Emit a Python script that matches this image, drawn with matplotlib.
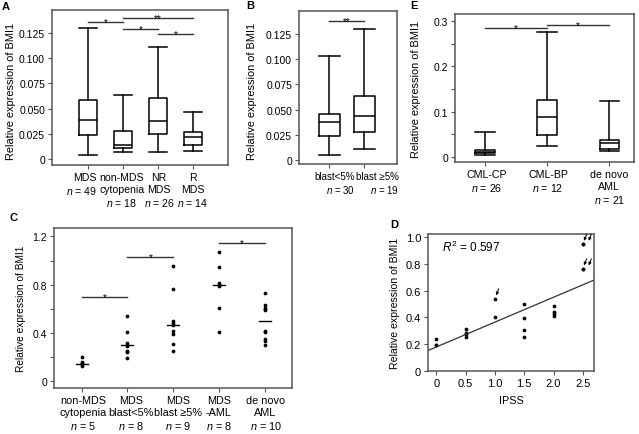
import matplotlib
matplotlib.use('Agg')
import matplotlib.pyplot as plt
from matplotlib.transforms import ScaledTranslation

plt.rcParams['font.family'] = ['Liberation Sans', 'DejaVu Sans']
plt.rcParams['mathtext.fontset'] = 'custom'
plt.rcParams['mathtext.rm'] = 'Liberation Sans'
plt.rcParams['mathtext.it'] = 'Liberation Sans:italic'

# ---------------- data ----------------
A_labels = ['MDS\n$n$ = 49', 'non-MDS\ncytopenia\n$n$ = 18', 'NR\nMDS\n$n$ = 26', 'R\nMDS\n$n$ = 14']
A_whislo = [0.0043, 0.0072, 0.0066, 0.0082]
A_q1 = [0.0238, 0.0106, 0.0245, 0.0142]
A_med = [0.0385, 0.0140, 0.0374, 0.0222]
A_q3 = [0.0588, 0.0275, 0.0605, 0.0270]
A_whishi = [0.1300, 0.0638, 0.1108, 0.0463]
A_sig = [(1, 2, 0.1356, '*'), (2, 4, 0.1399, '**'), (2, 3, 0.1290, '*'), (3, 4, 0.1240, '*')]
A_yticks = [0, 0.025, 0.05, 0.075, 0.1, 0.125]
A_yticklabels = ['0', '0.025', '0.050', '0.075', '0.100', '0.125']

B_labels = ['blast<5%\n$n$ = 30', 'blast \u22655%\n$n$ = 19']
B_whislo = [0.0052, 0.0111]
B_q1 = [0.0233, 0.0282]
B_med = [0.0381, 0.0436]
B_q3 = [0.0456, 0.0633]
B_whishi = [0.1030, 0.1300]
B_sig = [(1, 2, 0.1380, '**')]

E_labels = ['CML-CP\n$n$ = 26', 'CML-BP\n$n$ = 12', 'de novo\nAML\n$n$ = 21']
E_whislo = [0.004, 0.0244, 0.012]
E_q1 = [0.0075, 0.0488, 0.017]
E_med = [0.011, 0.0887, 0.0297]
E_q3 = [0.0155, 0.1265, 0.037]
E_whishi = [0.054, 0.276, 0.123]
E_sig = [(1, 2, 0.285, '*'), (2, 3, 0.293, '*')]
E_yticks = [0, 0.05, 0.1, 0.15, 0.2, 0.25, 0.3]
E_yticklabels = ['0', '', '0.1', '', '0.2', '', '0.3']

C_labels = ['non-MDS\ncytopenia\n$n$ = 5', 'MDS\nblast<5%\n$n$ = 8', 'MDS\nblast \u22655%\n$n$ = 9',
            'MDS\n-AML\n$n$ = 8', 'de novo\nAML\n$n$ = 10']
C_g1 = [0.20, 0.16, 0.15, 0.14, 0.13]
C_g2 = [0.54, 0.41, 0.315, 0.30, 0.29, 0.25, 0.24, 0.19]
C_g3 = [0.957, 0.764, 0.50, 0.485, 0.47, 0.42, 0.39, 0.31, 0.25]
C_g4 = [1.07, 0.95, 0.81, 0.80, 0.80, 0.79, 0.61, 0.41]
C_g5 = [0.73, 0.63, 0.61, 0.60, 0.59, 0.42, 0.41, 0.35, 0.33, 0.30]
C_centre = [0.143, 0.303, 0.469, 0.797, 0.502]
C_sig = [(1, 2, 0.695, '*'), (2, 3, 1.029, '*'), (4, 5, 1.145, '*')]
C_yticks = [0, 0.2, 0.4, 0.6, 0.8, 1.0, 1.2]
C_yticklabels = ['0', '', '0.4', '', '0.8', '', '1.2']

D_ipss = [0, 0, 0, 0.5, 0.5, 0.5, 0.5, 1.0, 1.0, 1.5, 1.5, 1.5, 1.5,
          2.0, 2.0, 2.0, 2.0, 2.5, 2.5, 2.5, 2.5]
D_bmi1 = [0.24, 0.195, 0.19, 0.315, 0.285, 0.276, 0.251, 0.535, 0.404, 0.501, 0.394, 0.307, 0.253,
          0.483, 0.442, 0.424, 0.412, 0.954, 0.954, 0.765, 0.765]
D_fit_x = [-0.143, 2.69]
D_fit_y = [0.151, 0.68]
D_xticks = [0, 0.5, 1.0, 1.5, 2.0, 2.5]
D_xticklabels = ['0', '0.5', '1.0', '1.5', '2.0', '2.5']
D_yticks = [0, 0.2, 0.4, 0.6, 0.8, 1.0]
D_yticklabels = ['0', '0.2', '0.4', '0.6', '0.8', '1.0']
D_arrows = [(1.02, 0.565), (2.52, 0.975), (2.60, 0.975), (2.52, 0.790), (2.60, 0.790)]

YLABEL = 'Relative expression of BMI1'

# ---------------- figure ----------------
W, H = 639, 435
fig = plt.figure(figsize=(W / 100, H / 100), dpi=100)


def add_ax(x0, y0, x1, y1):
    return fig.add_axes([x0 / W, 1 - y1 / H, (x1 - x0) / W, (y1 - y0) / H])


SPINE = '#555555'


def style(ax, fs):
    for s in ax.spines.values():
        s.set_color(SPINE)
        s.set_linewidth(1.1)
    ax.tick_params(direction='out', length=3, width=0.8, color=SPINE, labelsize=fs, pad=2)


def boxes(ax, lo, q1, med, q3, hi, width):
    stats = []
    for i in range(len(med)):
        stats.append(dict(whislo=lo[i], q1=q1[i], med=med[i], q3=q3[i], whishi=hi[i], fliers=[]))
    lp = dict(color='black', linewidth=1.1)
    ax.bxp(stats, positions=range(1, len(med) + 1), widths=width, capwidths=width,
           showfliers=False, boxprops=lp, whiskerprops=lp, capprops=lp,
           medianprops=dict(color='black', linewidth=1.1), manage_ticks=False)


def sig(ax, items, fs=7):
    for a, b, y, s in items:
        ax.plot([a, b], [y, y], color='#333333', lw=1.0, clip_on=False)
        ax.annotate(s, xy=((a + b) / 2, y), xytext=(0, -2.2), textcoords='offset points',
                    ha='center', va='baseline', fontsize=fs, annotation_clip=False)


def shift_labels(ax, dx_px, ha=None):
    for lbl, dx in zip(ax.get_xticklabels(), dx_px):
        lbl.set_transform(lbl.get_transform() + ScaledTranslation(dx / 100, 0, fig.dpi_scale_trans))
        if ha is not None:
            lbl.set_ha(ha)
            lbl.set_multialignment(ha)


# ---- A ----
axA = add_ax(52, 11, 228, 166)
style(axA, 7.5)
boxes(axA, A_whislo, A_q1, A_med, A_q3, A_whishi, 0.54)
sig(axA, A_sig)
axA.set_xlim(-0.03, 5.0)
axA.set_ylim(-0.006, 0.148)
axA.set_yticks(A_yticks)
axA.set_yticklabels(A_yticklabels)
axA.set_xticks([1, 2, 3, 4])
axA.set_xticklabels(A_labels, fontsize=7.6)
lblA = axA.get_xticklabels()[0]
lblA.set_ha('right')
lblA.set_multialignment('right')
lblA.set_transform(lblA.get_transform() + ScaledTranslation(0.09, 0, fig.dpi_scale_trans))
shift_labels(axA, [0, -1, 1, 0])
axA.set_ylabel(YLABEL, fontsize=7.9)
axA.yaxis.set_label_coords(-0.205, 0.48)

# ---- B ----
axB = add_ax(299, 12, 397, 165)
style(axB, 7.5)
boxes(axB, B_whislo, B_q1, B_med, B_q3, B_whishi, 0.6)
sig(axB, B_sig)
axB.set_xlim(0.143, 2.94)
axB.set_ylim(-0.004, 0.1476)
axB.set_yticks(A_yticks)
axB.set_yticklabels(A_yticklabels)
axB.set_xticks([1, 2])
axB.set_xticklabels(B_labels, fontsize=7)
shift_labels(axB, [26, 35], ha='right')
axB.set_ylabel(YLABEL, fontsize=7.9)
axB.yaxis.set_label_coords(-0.43, 0.48)

# ---- E ----
axE = add_ax(455, 15, 634, 163)
style(axE, 7.5)
boxes(axE, E_whislo, E_q1, E_med, E_q3, E_whishi, 0.31)
sig(axE, E_sig)
axE.set_xlim(0.516, 3.40)
axE.set_ylim(-0.0118, 0.3164)
axE.set_yticks(E_yticks)
axE.set_yticklabels(E_yticklabels)
axE.set_xticks([1, 2, 3])
axE.set_xticklabels(E_labels, fontsize=7.7)
shift_labels(axE, [2, 1, 0])
axE.set_ylabel(YLABEL, fontsize=7.9)
axE.yaxis.set_label_coords(-0.19, 0.5)

# ---- C ----
axC = add_ax(54, 229, 292, 389)
style(axC, 7.5)
for i, g in enumerate([C_g1, C_g2, C_g3, C_g4, C_g5]):
    axC.plot([i + 1] * len(g), g, 'o', color='black', markersize=2.7, markeredgewidth=0)
    axC.plot([i + 1 - 0.13, i + 1 + 0.13], [C_centre[i], C_centre[i]], color='black', lw=1.0)
sig(axC, C_sig)
axC.set_xlim(0.394, 5.6)
axC.set_ylim(-0.055, 1.269)
axC.set_yticks(C_yticks)
axC.set_yticklabels(C_yticklabels)
axC.set_xticks([1, 2, 3, 4, 5])
axC.set_xticklabels(C_labels, fontsize=7.8)
shift_labels(axC, [1.5, 4, 5, 0, 1])
axC.set_ylabel(YLABEL, fontsize=7.3)
axC.yaxis.set_label_coords(-0.118, 0.5)

# ---- D ----
axD = add_ax(428, 235, 594, 372)
style(axD, 8)
axD.plot(D_ipss, D_bmi1, 'o', color='black', markersize=2.7, markeredgewidth=0)
axD.plot(D_fit_x, D_fit_y, color='#333333', lw=0.9)
for (x, y) in D_arrows:
    axD.annotate('', xy=(x, y), xytext=(x + 0.045, y + 0.05),
                 arrowprops=dict(arrowstyle='-|>', lw=0.7, color='black',
                                 mutation_scale=4, shrinkA=0, shrinkB=0),
                 annotation_clip=False)
axD.text(0.09, 0.93, '$R^2$ = 0.597', fontsize=8.5, va='center', ha='left')
axD.set_xlim(-0.143, 2.69)
axD.set_ylim(-0.003, 1.026)
axD.set_xticks(D_xticks)
axD.set_xticklabels(D_xticklabels)
axD.set_yticks(D_yticks)
axD.set_yticklabels(D_yticklabels)
axD.set_xlabel('IPSS', fontsize=7.8, labelpad=5)
axD.set_ylabel(YLABEL, fontsize=7.6)
axD.yaxis.set_label_coords(-0.169, 0.5)

# ---- panel letters ----
for lab, (px, py) in {'A': (5.5, 7.5), 'B': (250, 6), 'C': (13, 218), 'D': (394, 225), 'E': (414, 6)}.items():
    fig.text(px / W, 1 - py / H, lab, fontsize=8, fontweight='bold', ha='center', va='center')

fig.savefig('out.png', dpi=100)
